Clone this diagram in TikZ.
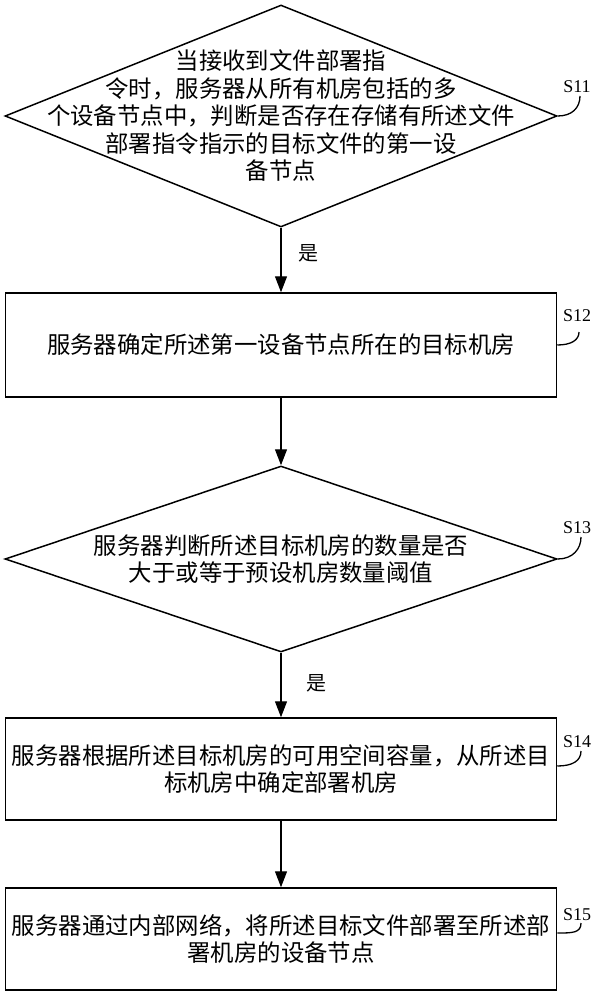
\documentclass[tikz,border=0pt]{standalone}
\usepackage{fontspec}
\setmainfont{Liberation Serif}
\newfontfamily\cjk{Noto Sans CJK SC}
\usetikzlibrary{shapes.geometric,arrows.meta}
\newcommand\cjkbody{\cjk\fontsize{23.4pt}{27.5pt}\selectfont}
\begin{document}
\begin{tikzpicture}[x=1pt,y=-1pt,
  decision/.style={diamond, draw, line width=1.5pt, inner sep=0pt},
  stepbox/.style={rectangle, draw, line width=1.5pt, minimum width=551pt, inner sep=1pt, align=center, font=\cjkbody},
  body/.style={align=center, font=\cjkbody, inner sep=0pt},
  arr/.style={-{Triangle[width=12pt,length=16pt]}, line width=1.3pt},
  slabel/.style={font=\fontsize{18pt}{18pt}\selectfont, inner sep=1pt},
  tick/.style={line width=1.3pt},
  yes/.style={font=\cjk\fontsize{20pt}{20pt}\selectfont, inner sep=0pt, anchor=west}]
\useasboundingbox (0,0) rectangle (597,1000);
% shapes
\node[decision, minimum width=552pt, minimum height=222pt] (d1) at (281,116) {};
\node[body] (t1) at (d1.center) {当接收到文件部署指\\令时，服务器从所有机房包括的多\\个设备节点中，判断是否存在存储有所述文件\\部署指令指示的目标文件的第一设\\备节点};
\node[stepbox, minimum height=104pt] (r1) at (281,345) {服务器确定所述第一设备节点所在的目标机房};
\node[decision, minimum width=552pt, minimum height=186pt] (d2) at (281,559) {};
\node[body] (t2) at (d2.center) {服务器判断所述目标机房的数量是否\\大于或等于预设机房数量阈值};
\node[stepbox, minimum height=102pt] (r2) at (281,769) {服务器根据所述目标机房的可用空间容量，从所述目\\标机房中确定部署机房};
\node[stepbox, minimum height=102pt] (r3) at (281,939) {服务器通过内部网络，将所述目标文件部署至所述部\\署机房的设备节点};
% connectors
\draw[arr] (d1.south) -- (r1.north) node[yes, pos=0.39, xshift=17pt] (y1) {是};
\draw[arr] (r1.south) -- (d2.north);
\draw[arr] (d2.south) -- (r2.north) node[yes, pos=0.48, xshift=25pt] (y2) {是};
\draw[arr] (r2.south) -- (r3.north);
% step labels
\node[slabel] (s11) at (577,87) {S11};
\node[slabel] (s12) at (577,316) {S12};
\node[slabel] (s13) at (577,528) {S13};
\node[slabel] (s14) at (577,742) {S14};
\node[slabel] (s15) at (577,915) {S15};
\coordinate (c11) at (580,96);
\coordinate (c12) at (579,332);
\coordinate (c13) at (581,537);
\coordinate (c14) at (581,751);
\coordinate (c15) at (581,923);
\draw[tick] (d1.east) .. controls +(14,0) and +(0,12) .. (c11);
\draw[tick] (r1.east) .. controls +(14,0) and +(0,8) .. (c12);
\draw[tick] (d2.east) .. controls +(15,0) and +(0,12) .. (c13);
\draw[tick] ([yshift=3pt]r2.east) .. controls +(15,0) and +(0,10) .. (c14);
\draw[tick] ([yshift=6pt]r3.east) .. controls +(15,0) and +(0,10) .. (c15);
\end{tikzpicture}
\end{document}
